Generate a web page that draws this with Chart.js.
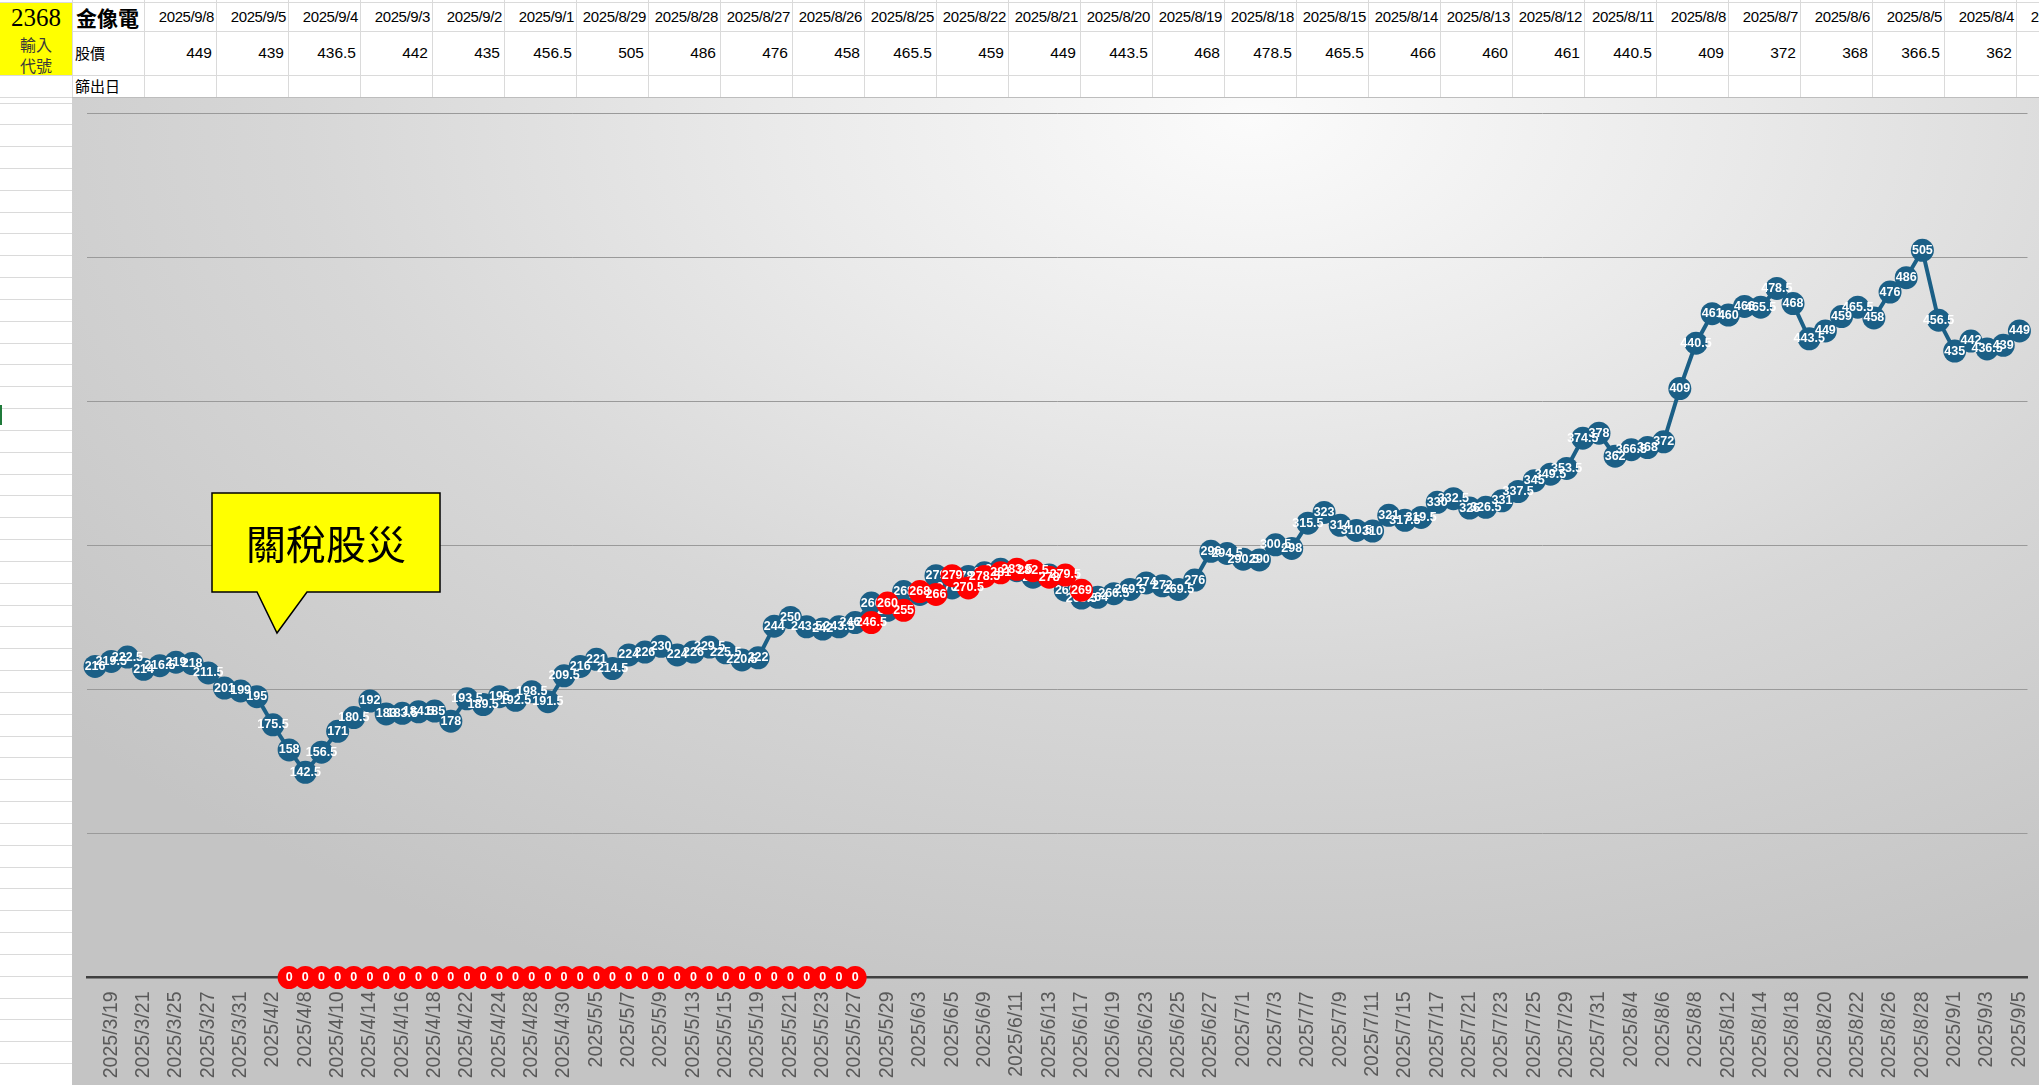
<!DOCTYPE html>
<html>
<head>
<meta charset="utf-8">
<script src="https://cdn.jsdelivr.net/npm/chart.js@4.4.0/dist/chart.umd.min.js"></script>
<style>
html,body{margin:0;padding:0;width:2039px;height:1085px;overflow:hidden;background:#fff;font-family:"Liberation Sans",Arial,sans-serif;}
.abs{position:absolute;box-sizing:border-box;white-space:nowrap;}
#panel{position:absolute;left:72px;top:97px;width:1967px;height:988px;border-top:1px solid #bdbdbd;box-sizing:border-box;
 background:radial-gradient(ellipse 80% 95% at 60% 2%, #fbfbfb 0%, #eaeaea 30%, #d7d7d7 60%, #c4c4c4 100%);}
#c{position:absolute;left:72px;top:97px;}
#callout{position:absolute;left:0;top:0;}
#callText{position:absolute;left:212px;top:493px;width:228px;height:99px;line-height:99px;text-align:center;font-family:"Noto Sans CJK TC","Noto Sans CJK SC",sans-serif;font-size:40px;color:#000;}
</style>
</head>
<body>
<div id="sheet"></div>
<div id="panel"></div>
<canvas id="c" width="1967" height="988"></canvas>
<svg id="callout" width="2039" height="1085" style="position:absolute;left:0;top:0;">
  <path d="M212,493 H440 V592 H307 L277,633 L257,592 H212 Z" fill="#ffff00" stroke="#000" stroke-width="1.5"/>
</svg>
<div id="callText">關稅股災</div>
<script>
// ---- data ----
const categories = ["2025/3/18","2025/3/19","2025/3/20","2025/3/21","2025/3/24","2025/3/25","2025/3/26","2025/3/27","2025/3/28","2025/3/31",
"2025/4/1","2025/4/2","2025/4/7","2025/4/8","2025/4/9","2025/4/10","2025/4/11","2025/4/14","2025/4/15","2025/4/16",
"2025/4/17","2025/4/18","2025/4/21","2025/4/22","2025/4/23","2025/4/24","2025/4/25","2025/4/28","2025/4/29","2025/4/30",
"2025/5/2","2025/5/5","2025/5/6","2025/5/7","2025/5/8","2025/5/9","2025/5/12","2025/5/13","2025/5/14","2025/5/15",
"2025/5/16","2025/5/19","2025/5/20","2025/5/21","2025/5/22","2025/5/23","2025/5/26","2025/5/27","2025/5/28","2025/5/29",
"2025/6/2","2025/6/3","2025/6/4","2025/6/5","2025/6/6","2025/6/9","2025/6/10","2025/6/11","2025/6/12","2025/6/13",
"2025/6/16","2025/6/17","2025/6/18","2025/6/19","2025/6/20","2025/6/23","2025/6/24","2025/6/25","2025/6/26","2025/6/27",
"2025/6/30","2025/7/1","2025/7/2","2025/7/3","2025/7/4","2025/7/7","2025/7/8","2025/7/9","2025/7/10","2025/7/11",
"2025/7/14","2025/7/15","2025/7/16","2025/7/17","2025/7/18","2025/7/21","2025/7/22","2025/7/23","2025/7/24","2025/7/25",
"2025/7/28","2025/7/29","2025/7/30","2025/7/31","2025/8/1","2025/8/4","2025/8/5","2025/8/6","2025/8/7","2025/8/8",
"2025/8/11","2025/8/12","2025/8/13","2025/8/14","2025/8/15","2025/8/18","2025/8/19","2025/8/20","2025/8/21","2025/8/22",
"2025/8/25","2025/8/26","2025/8/27","2025/8/28","2025/8/29","2025/9/1","2025/9/2","2025/9/3","2025/9/4","2025/9/5"];

const priceValues = [216,219.5,222.5,214,216.5,219,218,211.5,201,199,
195,175.5,158,142.5,156.5,171,180.5,192,183,183.5,
184.5,185,178,193.5,189.5,195,192.5,198.5,191.5,209.5,
216,221,214.5,224,226,230,224,226,229.5,225.5,
220.5,222,244,250,243.5,242,243.5,246.5,260,255,
268,266,279,270.5,278.5,281,283.5,282.5,278,279.5,
269,263.5,264,266.5,269.5,274,272,269.5,276,296,
294.5,290.5,290,300.5,298,315.5,323,314,310.5,310,
321,317.5,319.5,330,332.5,326,326.5,331,337.5,345,
349.5,353.5,374.5,378,362,366.5,368,372,409,440.5,
461,460,466,465.5,478.5,468,443.5,449,459,465.5,
458,476,486,505,456.5,435,442,436.5,439,449];

const screenValues = [null,null,null,null,null,null,null,null,null,null,
null,null,0,0,0,0,0,0,0,0,
0,0,0,0,0,0,0,0,0,0,
0,0,0,0,0,0,0,0,0,0,
0,0,0,0,0,0,0,0,246.5,260,
255,268,266,279,270.5,278.5,281,283.5,282.5,278,
279.5,269,null,null,null,null,null,null,null,null,
null,null,null,null,null,null,null,null,null,null,
null,null,null,null,null,null,null,null,null,null,
null,null,null,null,null,null,null,null,null,null,
null,null,null,null,null,null,null,null,null,null,
null,null,null,null,null,null,null,null,null,null];

const tableDates = ["2025/9/8","2025/9/5","2025/9/4","2025/9/3","2025/9/2","2025/9/1","2025/8/29","2025/8/28","2025/8/27","2025/8/26",
"2025/8/25","2025/8/22","2025/8/21","2025/8/20","2025/8/19","2025/8/18","2025/8/15","2025/8/14","2025/8/13","2025/8/12",
"2025/8/11","2025/8/8","2025/8/7","2025/8/6","2025/8/5","2025/8/4","2025/8/1"];
const tablePrices = [449,439,436.5,442,435,456.5,505,486,476,458,465.5,459,449,443.5,468,478.5,465.5,466,460,461,440.5,409,372,368,366.5,362,378];

const yTicks = [0,100,200,300,400,500,600];

// ---- spreadsheet ----
const sheet = document.getElementById('sheet');
function box(l,t,w,h,css,html){const d=document.createElement('div');d.className='abs';d.style.cssText=`left:${l}px;top:${t}px;width:${w}px;height:${h}px;`+(css||'');if(html!==undefined)d.innerHTML=html;sheet.appendChild(d);return d;}
const gridC='#dadada';
box(0,3,72,72,'background:#ffff00;');
for(let y=102.5;y<1085;y+=21.83){box(0,y,72,1,'background:'+gridC+';');}
box(0,2,2039,1,'background:'+gridC+';');
box(72,31,1967,1,'background:'+gridC+';');
box(0,75,2039,1,'background:'+gridC+';');
box(0,97,72,1,'background:'+gridC+';');
for(let x=72;x<2039;x+=72){box(x,0,1,97,'background:'+gridC+';');}
box(0,405,2,20,'background:#1f7a3a;');
box(0,3,72,30,'text-align:center;line-height:30px;font-family:"Liberation Serif",serif;font-size:25px;color:#000;','2368');
box(0,33,72,22,'text-align:center;line-height:22px;font-family:"Noto Sans CJK TC",sans-serif;font-size:16px;color:#3a3a3a;','輸入');
box(0,54,72,22,'text-align:center;line-height:22px;font-family:"Noto Sans CJK TC",sans-serif;font-size:16px;color:#3a3a3a;','代號');
box(76,3,70,28,'line-height:28px;font-family:"Noto Sans CJK TC",sans-serif;font-size:21px;font-weight:bold;color:#000;','金像電');
box(75,31,70,44,'line-height:44px;font-family:"Noto Sans CJK TC",sans-serif;font-size:15px;color:#000;','股價');
box(75,75,70,22,'line-height:22px;font-family:"Noto Sans CJK TC",sans-serif;font-size:15px;color:#000;','篩出日');
tableDates.forEach((d,i)=>{
  const l=144+72*i;
  box(l,3,70,28,'text-align:right;line-height:28px;font-size:15px;color:#000;letter-spacing:-0.4px;',d);
  box(l,31,68,44,'text-align:right;line-height:44px;font-size:15.5px;color:#000;',String(tablePrices[i]));
});

// ---- chart ----
Chart.defaults.font.family = '"Liberation Sans", Arial, sans-serif';
const labelPlugin = {
  id:'ptLabels',
  afterDatasetDraw(chart,args){
    const ds = chart.data.datasets[args.index];
    const c = chart.ctx;
    c.save();
    c.font = 'bold 12.5px "Liberation Sans", Arial, sans-serif';
    c.fillStyle = '#ffffff';
    c.textAlign = 'center';
    c.textBaseline = 'middle';
    args.meta.data.forEach((pt,i)=>{
      const v = ds.data[i];
      if(v===null||v===undefined) return;
      c.fillText(String(v), pt.x, pt.y);
    });
    c.restore();
  }
};

new Chart(document.getElementById('c'),{
  type:'line',
  data:{
    labels:categories,
    datasets:[
      {label:'股價',data:priceValues,borderColor:'#1b5f86',backgroundColor:'#1b5f86',borderWidth:4,
       pointRadius:11.5,pointBorderWidth:0,pointBackgroundColor:'#1b5f86',pointBorderColor:'#1b5f86',
       tension:0,order:2,clip:false},
      {label:'篩出日',data:screenValues,showLine:false,pointRadius:11.5,pointBorderWidth:0,
       pointBackgroundColor:'#ff0000',pointBorderColor:'#ff0000',backgroundColor:'#ff0000',borderColor:'#ff0000',
       order:1,clip:false}
    ]
  },
  options:{
    responsive:false,animation:false,devicePixelRatio:1,
    layout:{padding:{left:15,right:11,top:16.5,bottom:0}},
    plugins:{legend:{display:false},tooltip:{enabled:false}},
    scales:{
      x:{type:'category',offset:true,
         grid:{display:false,drawTicks:false},
         border:{display:true,color:'#404040',width:2.5},
         ticks:{autoSkip:false,maxRotation:90,minRotation:90,padding:14,color:'#595959',font:{size:19.5},
           callback:function(v,i){return i%2===1?categories[i]:'';}},
         afterFit(a){a.height=107.5;a.paddingLeft=0;a.paddingRight=0;}},
      y:{min:yTicks[0],max:yTicks[yTicks.length-1],
         afterBuildTicks(a){a.ticks=yTicks.map(v=>({value:v}));},
         ticks:{display:false},
         grid:{color:'#9a9a9a',lineWidth:1,drawTicks:false},
         border:{display:false},
         afterFit(a){a.width=0;}}
    }
  },
  plugins:[labelPlugin]
});
</script>
</body>
</html>
